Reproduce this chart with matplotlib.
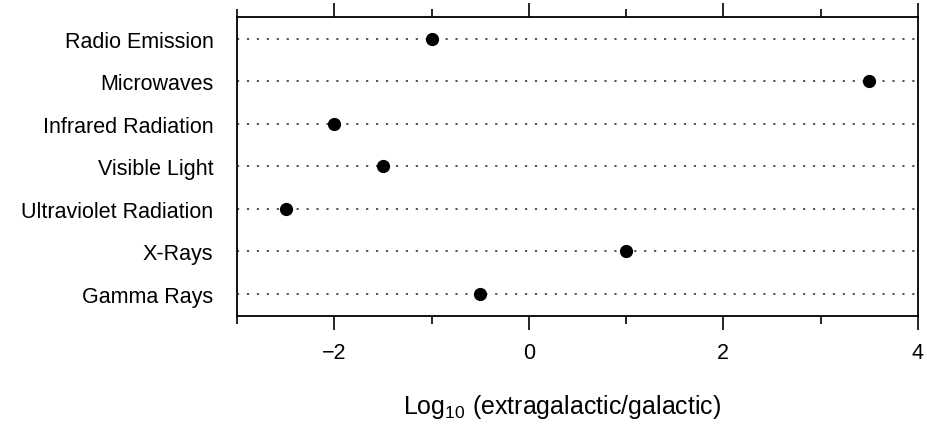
import matplotlib.pyplot as plt
from matplotlib.ticker import MultipleLocator

plt.rcParams['font.family'] = ['Liberation Sans', 'DejaVu Sans']
plt.rcParams['mathtext.default'] = 'regular'

# 数据：各波段 extragalactic/galactic 比值的对数
bands = ["Radio Emission", "Microwaves", "Infrared Radiation", "Visible Light",
         "Ultraviolet Radiation", "X-Rays", "Gamma Rays"]
log_ratio = [-1.0, 3.5, -2.0, -1.5, -2.5, 1.0, -0.5]

fig = plt.figure(figsize=(9.28, 4.27), dpi=100)
ax = fig.add_axes([0.2554, 0.258, 0.7337, 0.700])

ypos = list(range(len(bands)))[::-1]
for y in ypos:
    ax.axhline(y, color='#444444', linestyle=(0, (1.2, 4.3)), linewidth=1.3)
ax.plot(log_ratio, ypos, 'o', color='black', markersize=8.5, zorder=3)

ax.set_xlim(-3, 4)
ax.set_ylim(-0.52, 6.52)
ax.set_yticks(ypos)
ax.set_yticklabels(bands, fontsize=15.5)
ax.tick_params(axis='y', length=0, pad=17)

ax.xaxis.set_major_locator(MultipleLocator(2))
ax.xaxis.set_minor_locator(MultipleLocator(1))
ax.tick_params(axis='x', which='major', length=10, width=1.2, labelsize=15.5, pad=9,
               top=True, direction='out')
ax.tick_params(axis='x', which='minor', length=6, width=1.2, top=True, direction='out')

for s in ax.spines.values():
    s.set_linewidth(1.3)

ax.set_xlabel(r'Log$_{10}$ (extragalactic/galactic)', fontsize=18)
ax.xaxis.set_label_coords(0.478, -0.255)

fig.savefig("out.png", dpi=100)
